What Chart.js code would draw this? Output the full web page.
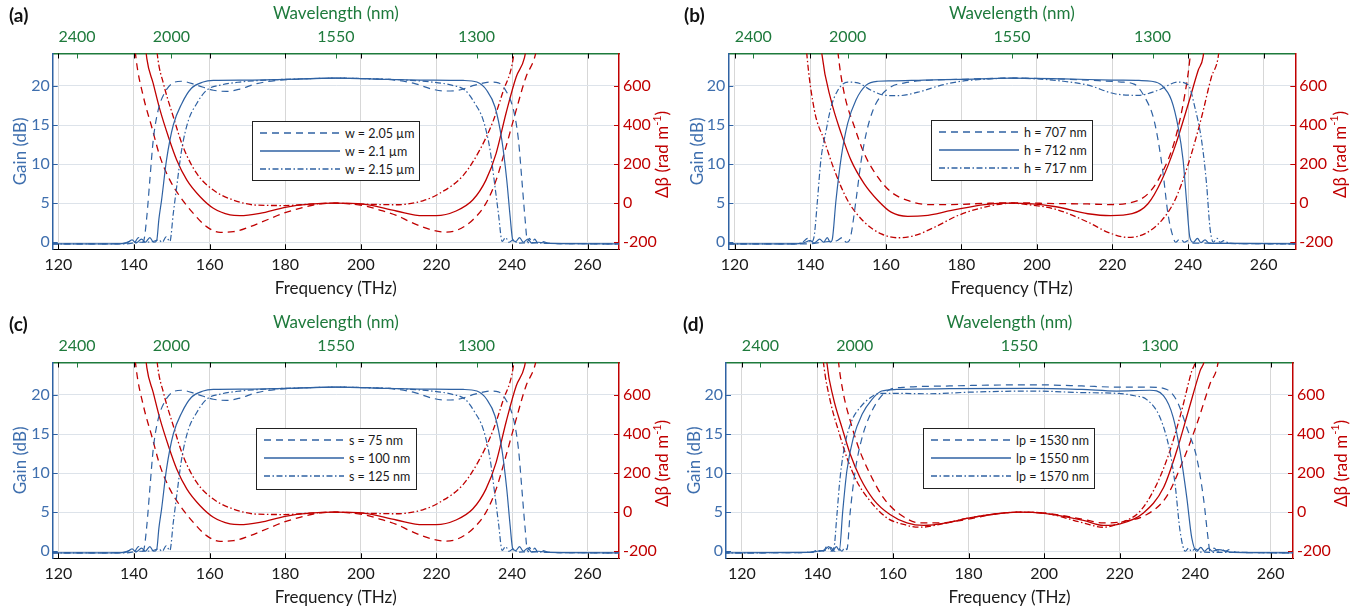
<!DOCTYPE html>
<html>
<head>
<meta charset="utf-8">
<script src="https://cdn.jsdelivr.net/npm/chart.js@4"></script>
<style>
  body { margin: 0; background: #fff; font-family: Lato, sans-serif; }
  #wrap { position: relative; width: 1369px; height: 612px; }
  canvas { position: absolute; }
  .plabel { position: absolute; font-weight: bold; font-size: 19px; line-height: 19px; color: #111; }
  .legend { position: absolute; border: 1.3px solid #222; background: #fff; box-sizing: border-box;
            padding: 2px 0 0 7px; font-size: 12.5px; color: #1a1a1a; }
  .legend .row { height: 18px; display: flex; align-items: center; }
  .legend svg { margin-right: 5px; }
</style>
</head>
<body>
<div id="wrap">
  <canvas id="ca" width="684" height="303" style="left:0;top:0"></canvas>
  <canvas id="cb" width="684" height="303" style="left:684px;top:0"></canvas>
  <canvas id="cc" width="684" height="303" style="left:0;top:309px"></canvas>
  <canvas id="cd" width="684" height="303" style="left:684px;top:309px"></canvas>
  <div class="plabel" style="left:9px;top:5px">(a)</div>
  <div class="plabel" style="left:684px;top:5px">(b)</div>
  <div class="plabel" style="left:9px;top:314px">(c)</div>
  <div class="plabel" style="left:683px;top:314px">(d)</div>
  <div class="legend" id="la" style="left:252px;top:121px;width:168px;height:60px"></div>
  <div class="legend" id="lb" style="left:931px;top:120px;width:162px;height:61px"></div>
  <div class="legend" id="lc" style="left:256px;top:428px;width:161px;height:62px"></div>
  <div class="legend" id="ld" style="left:923px;top:428px;width:172px;height:61px"></div>
</div>
<script>
const BLUE = '#2f62a3';
const BLUE_TXT = '#3f6fae';
const RED = '#c00000';
const GREEN = '#1e7a3c';
const C_NM_THZ = 299792.458;

// axis ticks
const freqTicks = [120, 140, 160, 180, 200, 220, 240, 260];
const wlTicks = [2400, 2000, 1550, 1300];
const gainTicks = [0, 5, 10, 15, 20];
const dbTicks = [-200, 0, 200, 400, 600];

// legend labels
const labelsA = ['w = 2.05 \u00b5m', 'w = 2.1 \u00b5m', 'w = 2.15 \u00b5m'];
const labelsB = ['h = 707 nm', 'h = 712 nm', 'h = 717 nm'];
const labelsC = ['s = 75 nm', 's = 100 nm', 's = 125 nm'];
const labelsD = ['lp = 1530 nm', 'lp = 1550 nm', 'lp = 1570 nm'];

// (a) and (c): gain in dB vs frequency in THz
const aGainDash = [[115,-0.2],[130,-0.2],[137,-0.15],[139,0.1],[140,-0.1],[141.2,0.6],[142.2,0],[142.6,0.2],[143.4,3.3],[144.2,8],[145.1,13.1],[146.4,16.9],[148.2,19.2],[150.4,20.4],[152.6,20.6],[156.6,20.1],[161,19.45],[164.5,19.3],[168,19.6],[172.5,20.3],[177.8,20.7],[185,20.9],[193.4,21.0],[201,20.95],[209,20.75],[214.3,20.3],[218.8,19.6],[222.3,19.35],[225.8,19.45],[230.2,20.1],[234.2,20.5],[236.4,20.4],[238.6,19.2],[240.4,16.9],[241.7,13.1],[242.6,8],[243.4,3.3],[244.1,0.1],[244.6,0.5],[245.3,0],[246,0.4],[246.8,-0.1],[248,0.1],[250,-0.15],[270,-0.2]];
const aGainSolid = [[115,-0.2],[135,-0.2],[138,-0.1],[139.5,0.3],[140.5,-0.1],[142,0.4],[143,0],[144.2,0.6],[145.2,0],[146,0.2],[146.6,3],[147.3,5.4],[148.6,10.5],[150.4,15],[152.6,17.7],[155.2,19.7],[158.3,20.5],[161,20.7],[170,20.75],[180,20.85],[193.4,21.0],[207,20.85],[217,20.75],[227.1,20.7],[230.7,20.5],[233.3,19.45],[235.5,17.3],[237.3,13.1],[238.6,8.0],[239.5,3.3],[240.2,0.3],[241,0.1],[242,0.6],[243,0],[244.2,0.4],[245.2,-0.1],[247,0],[250,-0.15],[270,-0.2]];
const aGainDot = [[115,-0.2],[138,-0.2],[141,0],[143,0],[145,0.1],[146.5,0.3],[147.5,0],[148.5,0.7],[149.5,0.1],[150.4,3.7],[151.3,7.1],[152.6,11.8],[154.4,15.6],[156.6,17.75],[159.2,19.45],[162.8,20.1],[168,20.5],[175.1,20.75],[184,20.9],[193.4,21.0],[203,20.9],[211.7,20.75],[218.8,20.5],[224,20.1],[227.6,19.45],[230.2,17.75],[232.4,15.6],[234.2,11.8],[235.5,7.1],[236.4,3.7],[237.4,0.1],[238.3,0.6],[239.2,0],[240.3,0.3],[241.5,-0.1],[245,-0.05],[250,-0.15],[270,-0.2]];
// (a) and (c): delta beta in rad/m
const aDbDash = [[139.8,900],[140.55,740],[142.5,544],[144.7,390],[146.9,237],[149.5,118],[152.2,33],[155.7,-52],[159.2,-120],[162.8,-149],[166.3,-146],[170.7,-120],[175.1,-86],[179.5,-52],[183.9,-26],[188.3,-6],[193,0],[200.6,-12],[205,-35],[209.4,-62],[213,-95],[216.4,-122],[219,-138],[222.5,-148],[225.5,-138],[229.6,-86],[233.1,-1],[235.8,118],[238.4,288],[241.1,476],[243.7,646],[245.9,740],[247,830]];
const aDbSolid = [[142.6,900],[143.4,740],[145.1,612],[146.9,476],[149.1,340],[151.3,221],[154,118],[157.5,33],[161,-26],[165.4,-60],[168,-64],[173.3,-52],[180,-21],[186.5,-5],[193,0],[200.6,-5],[209.4,-40],[216.4,-64],[219.9,-64],[225.2,-40],[229.6,16],[233.1,118],[235.8,255],[238.4,459],[241.1,646],[243.3,745],[244.3,860]];
const aDbDot = [[145.6,900],[146.2,757],[147.8,612],[150.4,442],[153,288],[156.6,152],[161,67],[166.3,16],[172.5,-10],[180,-12],[186.5,-5],[193,0],[200.6,-5],[209.4,-8],[216.4,12],[220.8,50],[227,140],[231.4,270],[235,420],[237.6,570],[240.3,740],[241,860]];

// (b)
const bGainDash = [[115,-0.2],[140,-0.2],[143,0],[145,0.1],[147,0.2],[148.5,0.6],[149.5,0],[150.3,0.2],[150.8,1],[152.1,5.35],[153.5,10.5],[154.8,13.9],[156.6,16.9],[158.8,18.8],[161.4,19.9],[165,20.4],[170.3,20.7],[180,20.85],[193.4,21.0],[205,20.9],[215,20.7],[222.3,20.5],[225.9,20.2],[228.5,18.6],[230.8,16.0],[232.1,13.0],[233.4,8.8],[234.7,3.6],[236.1,0.6],[236.7,0],[238,0.5],[239,0],[240,0.2],[241,-0.1],[245,-0.1],[250,-0.15],[270,-0.2]];
const bGainSolid = [[115,-0.2],[136,-0.2],[138,-0.1],[140,0.2],[141,-0.1],[142.5,0.4],[143.5,0],[144.5,0.6],[145.3,0],[145.8,0.3],[146.8,5.35],[148.2,10.9],[149.9,15.2],[152.1,18.2],[154.8,20.1],[157.9,20.6],[161.4,20.65],[170,20.75],[180,20.85],[193.4,21.0],[207,20.9],[220,20.75],[227,20.7],[230.3,20.6],[233,20.1],[235.6,18.2],[237.4,14.7],[238.7,10.5],[239.6,5.35],[240.5,0.6],[241.4,0],[242.5,0.5],[243.4,-0.05],[244.5,0.3],[245.5,-0.1],[250,-0.15],[270,-0.2]];
const bGainDot = [[115,-0.2],[136,-0.2],[138,0],[139.3,0.5],[140.2,0],[140.8,0.3],[141.1,1],[141.9,5.35],[142.8,10.5],[144.2,14.3],[145.5,17.3],[147.3,19.45],[149.9,20.5],[152.6,20.4],[156.1,19.45],[159.7,18.8],[163.2,18.75],[168.5,19.2],[174.7,20.1],[180,20.6],[186,20.85],[193.4,21.0],[200,20.9],[207,20.6],[213.5,20.1],[220.6,19.0],[226.8,18.8],[232.1,19.45],[237.4,20.5],[240.1,20.1],[241.8,17.3],[243.6,13.0],[244.9,7.5],[245.8,1.9],[246.7,0],[247.7,0.5],[248.5,0],[249.5,0.2],[251,-0.15],[270,-0.2]];
const bDbDash = [[146.8,900],[147.4,760],[149,561],[151.7,390],[154.3,253],[157.9,133],[161.4,57],[165.8,14],[171.2,-7],[177.4,-7],[186.2,-1],[193.3,2],[205,-2],[213.5,-4],[218.8,-7],[224.1,0],[229.4,48],[233,151],[236.5,321],[239.2,561],[240.5,740],[241,860]];
const bDbSolid = [[142.5,900],[143.1,760],[145.5,527],[148.2,356],[150.8,219],[154.3,99],[157.9,14],[161.4,-46],[165.8,-67],[170.3,-64],[177.4,-37],[186.2,-7],[193.3,0],[204.6,-17],[213.5,-54],[219.5,-64],[225.2,-54],[229.4,-3],[233,116],[236.5,287],[240.1,510],[242.7,680],[244,750],[244.6,860]];
const bDbDot = [[138.6,900],[139.1,760],[141.1,475],[143.7,321],[146.4,168],[149.9,14],[154.3,-97],[158.8,-157],[163.2,-177],[167.6,-166],[172.9,-123],[179.1,-63],[186.2,-20],[193.3,0],[198,-8],[204.6,-29],[213.5,-97],[218.8,-149],[224.1,-175],[228.5,-157],[233,-89],[236.5,14],[240.1,202],[243.6,441],[246.2,646],[248,750],[248.6,860]];

// (d)
const dGainDash = [[115,-0.2],[138,-0.15],[140,0],[142,0.1],[143.5,0.5],[144.5,0],[145.5,0.4],[146.5,0],[147.3,0.6],[147.8,0.2],[148.7,5.1],[150,10.3],[151.8,14.5],[154,17.5],[156.6,19.65],[159.2,20.7],[163.7,21.0],[175,21.15],[185,21.25],[197.2,21.3],[210,21.15],[219.2,21.0],[228,21.0],[232.5,20.7],[235.2,19.2],[237.8,15.8],[240.4,12],[242.2,6.8],[243.5,1.3],[243.9,0],[245,0.4],[246,0],[247,0.3],[248,0],[249,0.2],[251,-0.15],[270,-0.2]];
const dGainSolid = [[115,-0.2],[138,-0.15],[140,0],[142,0.2],[143,0.6],[144,0],[145,0.6],[145.8,0.1],[146.7,5.1],[147.8,10.3],[149.5,14.5],[151.8,17.5],[154.4,19.4],[157,20.5],[161,20.7],[175,20.8],[197.2,20.85],[210,20.7],[219.2,20.5],[228,20.6],[231.6,19.9],[234.2,17.1],[236,12.8],[237.8,6.8],[239.1,1.7],[240.4,0],[241.5,0.5],[242.5,0],[243.5,0.4],[244.5,0],[246,0.2],[250,-0.15],[270,-0.2]];
const dGainDot = [[115,-0.2],[138,-0.15],[140,0.1],[141.5,0],[142.5,0.6],[143.5,0],[144.4,0.5],[145.1,4.27],[146,9.4],[147.3,13.7],[149.1,16.7],[151.3,18.4],[154,19.65],[156.6,20.2],[161,20.2],[169.8,20.15],[180,20.35],[197.2,20.5],[210,20.3],[219.2,20.2],[224,19.9],[227.2,19.4],[230.7,17.1],[233.3,12.8],[234.7,8.5],[236,2.6],[237.4,0],[238.3,0.4],[239,0],[240,0.3],[241.5,-0.1],[250,-0.15],[270,-0.2]];
const dDbDash = [[145,900],[145.6,766],[146.9,604],[148.7,467],[150.9,330],[154,193],[157.5,73],[161.9,-12],[167.2,-55],[172.5,-55],[179.5,-37],[187.5,-8],[193,0],[200,-4],[210.4,-37],[215.7,-55],[220.1,-50],[227.2,-12],[232.5,82],[236.4,245],[240.4,449],[243.9,655],[246.1,770],[246.6,860]];
const dDbSolid = [[142,900],[142.5,766],[144.2,586],[146.5,433],[148.7,296],[151.3,176],[154.8,66],[159.2,-12],[163.7,-55],[168.1,-68],[174.2,-55],[179.5,-32],[187.5,-8],[193,0],[200,-6],[210.4,-42],[215.7,-68],[220.1,-60],[226.3,-4],[231.6,125],[235.1,313],[238.2,518],[241.3,723],[242.6,790],[243,860]];
const dDbDot = [[141,900],[141.6,766],[143.4,569],[145.6,415],[147.8,279],[150.4,159],[154,56],[158.4,-29],[162.8,-63],[167.2,-77],[174.2,-55],[179.5,-32],[187.5,-8],[193,0],[200,-5],[210.4,-55],[215.7,-77],[220.1,-55],[225.4,5],[229.8,142],[233.3,313],[236.4,518],[239.1,723],[240,770],[240.5,860]];

Chart.defaults.font.family = 'Lato, sans-serif';
Chart.defaults.font.size = 16;

const dashes = [[7, 5], [], [6, 2.5, 1.5, 2.5]];

function toXY(arr) {
  return arr.map(p => ({ x: p[0], y: p[1] }));
}

// ticks drawn inward on all four sides, and the rotated right axis title
const frameBits = {
  id: 'frameBits',
  afterDraw(chart, args, opts) {
    const { ctx, chartArea: a, scales } = chart;
    ctx.save();
    ctx.lineWidth = 1;
    const seg = (x1, y1, x2, y2) => { ctx.beginPath(); ctx.moveTo(x1, y1); ctx.lineTo(x2, y2); ctx.stroke(); };
    ctx.strokeStyle = '#000';
    scales.x.ticks.forEach(t => {
      const px = Math.round(scales.x.getPixelForValue(t.value)) + 0.5;
      seg(px, a.bottom, px, a.bottom - 5);
      seg(px, a.top, px, a.top + 5);
    });
    ctx.strokeStyle = GREEN;
    scales.x2.ticks.forEach(t => {
      const px = Math.round(scales.x2.getPixelForValue(t.value)) + 0.5;
      seg(px, a.top, px, a.top + 5);
    });
    ctx.strokeStyle = BLUE;
    scales.y.ticks.forEach(t => {
      const py = Math.round(scales.y.getPixelForValue(t.value)) + 0.5;
      seg(a.left, py, a.left + 5, py);
    });
    ctx.strokeStyle = RED;
    scales.y2.ticks.forEach(t => {
      const py = Math.round(scales.y2.getPixelForValue(t.value)) + 0.5;
      seg(a.right, py, a.right - 5, py);
    });

    // "Δβ (rad m-1)" reading bottom to top
    ctx.translate(opts.titleX, (a.top + a.bottom) / 2 + 3);
    ctx.rotate(-Math.PI / 2);
    ctx.fillStyle = RED;
    ctx.textBaseline = 'middle';
    const big = '17px Lato, sans-serif', small = '11px Lato, sans-serif';
    const p1 = '\u0394\u03b2 (rad m', p2 = '-1', p3 = ')';
    ctx.font = big; const w1 = ctx.measureText(p1).width, w3 = ctx.measureText(p3).width;
    ctx.font = small; const w2 = ctx.measureText(p2).width;
    let x = -(w1 + w2 + w3) / 2;
    ctx.font = big; ctx.fillText(p1, x, 0); x += w1;
    ctx.font = small; ctx.fillText(p2, x, -6); x += w2;
    ctx.font = big; ctx.fillText(p3, x, 0);
    ctx.restore();
  }
};

function makePanel(id, o) {
  const lineSet = (arr, i, color, axis, label) => ({
    label: label,
    data: toXY(arr),
    borderColor: color,
    borderWidth: color === RED ? 1.3 : 1.2,
    borderDash: dashes[i],
    pointRadius: 0,
    cubicInterpolationMode: 'monotone',
    yAxisID: axis,
  });
  const datasets = [
    lineSet(o.gain[0], 0, BLUE, 'y', o.labels[0]),
    lineSet(o.gain[1], 1, BLUE, 'y', o.labels[1]),
    lineSet(o.gain[2], 2, BLUE, 'y', o.labels[2]),
    lineSet(o.db[0], 0, RED, 'y2', o.labels[0]),
    lineSet(o.db[1], 1, RED, 'y2', o.labels[1]),
    lineSet(o.db[2], 2, RED, 'y2', o.labels[2]),
  ];
  return new Chart(document.getElementById(id), {
    type: 'line',
    data: { datasets },
    plugins: [frameBits],
    options: {
      responsive: false,
      animation: false,
      layout: { padding: 0 },
      plugins: {
        legend: { display: false },
        tooltip: { enabled: false },
        frameBits: { titleX: o.dbTitleX },
      },
      scales: {
        x: {
          type: 'linear', position: 'bottom', bounds: 'data', min: o.xMin, max: o.xMax,
          afterBuildTicks: s => { s.ticks = freqTicks.map(v => ({ value: v })); },
          afterFit: s => { s.height = 53.7; },
          ticks: { color: '#1a1a1a', padding: 6, autoSkip: false, maxRotation: 0 },
          grid: { color: '#d7d7d7', drawTicks: false },
          border: { color: '#000', width: 1 },
          title: { display: true, text: 'Frequency (THz)', color: '#1a1a1a', font: { size: 17 }, padding: { top: 0, bottom: 4 } },
        },
        x2: {
          type: 'linear', position: 'top', bounds: 'data', min: o.xMin, max: o.xMax,
          afterBuildTicks: s => { s.ticks = wlTicks.map(w => ({ value: C_NM_THZ / w })); },
          afterFit: s => { s.height = 53.5; },
          ticks: { color: GREEN, padding: 7, autoSkip: false, maxRotation: 0, callback: (v, i) => wlTicks[i] },
          grid: { drawOnChartArea: false, drawTicks: false },
          border: { color: GREEN, width: 1.5 },
          title: { display: true, text: 'Wavelength (nm)', color: GREEN, font: { size: 17 }, padding: { top: 3, bottom: 0 } },
        },
        y: {
          type: 'linear', position: 'left', bounds: 'data', min: -0.9, max: 24.15,
          afterBuildTicks: s => { s.ticks = gainTicks.map(v => ({ value: v })); },
          afterFit: s => { s.width = o.leftW; },
          ticks: { color: BLUE_TXT, padding: 3 },
          grid: { color: '#dde3ea', drawTicks: false },
          border: { color: BLUE, width: 1.5 },
          title: { display: true, text: 'Gain (dB)', color: BLUE_TXT, font: { size: 17 }, padding: { top: o.gainPad, bottom: 0 } },
        },
        y2: {
          type: 'linear', position: 'right', bounds: 'data', min: -236, max: 766,
          afterBuildTicks: s => { s.ticks = dbTicks.map(v => ({ value: v })); },
          afterFit: s => { s.width = o.rightW; },
          ticks: { color: RED, padding: 4 },
          grid: { drawOnChartArea: false, drawTicks: false },
          border: { color: RED, width: 1.5 },
        },
      },
    },
  });
}

function buildLegend(id, labels) {
  const dash = ['7,5', '', '6,2.5,1.5,2.5'];
  document.getElementById(id).innerHTML = labels.map((t, i) =>
    '<div class="row"><svg width="80" height="8"><line x1="0" y1="4" x2="80" y2="4" stroke="' + BLUE +
    '" stroke-width="1.3" stroke-dasharray="' + dash[i] + '"/></svg><span>' + t + '</span></div>').join('');
}

makePanel('ca', { xMin: 118.5, xMax: 268.3, leftW: 52.7, rightW: 65, gainPad: 10.8, dbTitleX: 663,
  labels: labelsA, gain: [aGainDash, aGainSolid, aGainDot], db: [aDbDash, aDbSolid, aDbDot] });
makePanel('cb', { xMin: 118.3, xMax: 268.4, leftW: 44.3, rightW: 72.7, gainPad: 3.1, dbTitleX: 656.7,
  labels: labelsB, gain: [bGainDash, bGainSolid, bGainDot], db: [bDbDash, bDbSolid, bDbDot] });
makePanel('cc', { xMin: 118.5, xMax: 268.3, leftW: 52.7, rightW: 65, gainPad: 10.5, dbTitleX: 663,
  labels: labelsC, gain: [aGainDash, aGainSolid, aGainDot], db: [aDbDash, aDbSolid, aDbDot] });
makePanel('cd', { xMin: 115.8, xMax: 265.9, leftW: 42, rightW: 75, gainPad: 0.8, dbTitleX: 657.7,
  labels: labelsD, gain: [dGainDash, dGainSolid, dGainDot], db: [dDbDash, dDbSolid, dDbDot] });

buildLegend('la', labelsA);
buildLegend('lb', labelsB);
buildLegend('lc', labelsC);
buildLegend('ld', labelsD);
</script>
</body>
</html>
